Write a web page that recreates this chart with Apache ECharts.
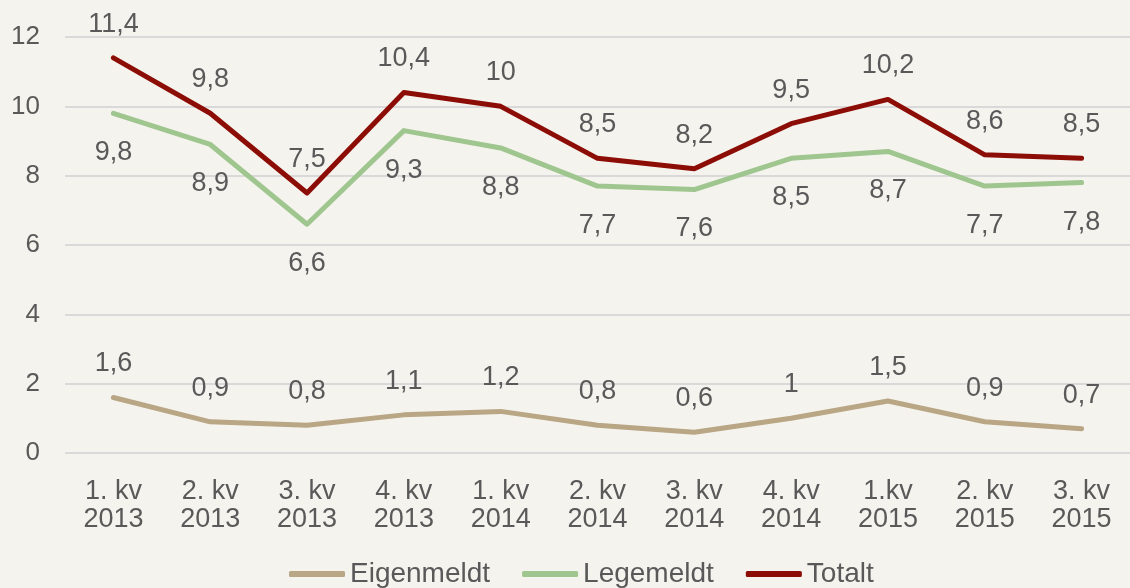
<!DOCTYPE html>
<html><head><meta charset="utf-8">
<script src="https://cdn.jsdelivr.net/npm/echarts@6/dist/echarts.min.js"></script>
<style>html,body{margin:0;padding:0;background:#f5f3ee;}#c{width:1130px;height:588px;}</style>
</head><body><div id="c"></div>
<script>
var categories = ['1. kv\n2013','2. kv\n2013','3. kv\n2013','4. kv\n2013','1. kv\n2014','2. kv\n2014','3. kv\n2014','4. kv\n2014','1.kv\n2015','2. kv\n2015','3. kv\n2015'];
var eigenmeldt = [1.6,0.9,0.8,1.1,1.2,0.8,0.6,1,1.5,0.9,0.7];
var legemeldt = [9.8,8.9,6.6,9.3,8.8,7.7,7.6,8.5,8.7,7.7,7.8];
var totalt = [11.4,9.8,7.5,10.4,10,8.5,8.2,9.5,10.2,8.6,8.5];
var fmt = function(p){ return String(p.value).replace('.', ','); };
var font = 'Liberation Sans, Arial, sans-serif';
var chart = echarts.init(document.getElementById('c'));
function s(name, data, color, pos, dist){
  return {name:name, type:'line', data:data, symbol:'circle', symbolSize:0, showSymbol:true,
    lineStyle:{color:color, width:5, join:'round', cap:'round'}, itemStyle:{color:color},
    label:{show:true, position:pos, distance:dist, formatter:fmt, color:'#595959', fontSize:27, fontFamily:font}};
}
chart.setOption({
  backgroundColor:'#f5f3ee',
  animation:false,
  grid:{left:65, right:-3, top:37, bottom:135},
  legend:{bottom:-5, left:284, itemWidth:56, itemHeight:6, itemGap:32, icon:'roundRect',
    textStyle:{color:'#595959', fontSize:28, fontFamily:font}, data:['Eigenmeldt','Legemeldt','Totalt']},
  xAxis:{type:'category', data:categories, boundaryGap:true,
    axisLine:{show:false}, axisTick:{show:false},
    axisLabel:{color:'#595959', fontSize:27, fontFamily:font, lineHeight:28, margin:25}},
  yAxis:{type:'value', min:0, max:12, interval:2,
    axisLine:{show:false}, axisTick:{show:false},
    splitLine:{lineStyle:{color:'#d9d9d9', width:2}},
    axisLabel:{color:'#595959', fontSize:26, fontFamily:font, margin:25}},
  series:[
    s('Eigenmeldt', eigenmeldt, '#b9a684', 'top', 20),
    s('Legemeldt', legemeldt, '#9fc68e', 'bottom', 26),
    s('Totalt', totalt, '#8c0d05', 'top', 20)
  ]
});
</script></body></html>
